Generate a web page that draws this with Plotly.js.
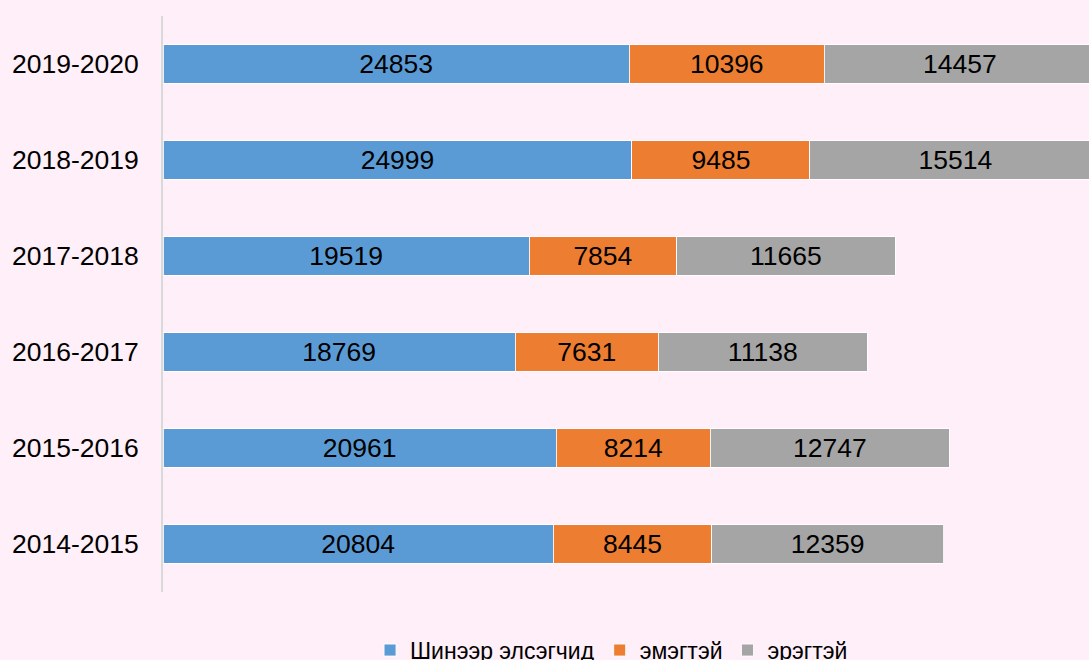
<!DOCTYPE html>
<html>
<head>
<meta charset="utf-8">
<script src="https://cdn.plot.ly/plotly-3.0.1.min.js"></script>
<style>html,body{margin:0;padding:0;background:#FEEFF8;}#chart{width:1089px;height:660px;}</style>
</head>
<body>
<div id="chart"></div>
<script>
const years = ["2014-2015","2015-2016","2016-2017","2017-2018","2018-2019","2019-2020"];
const newEntrants = [20804, 20961, 18769, 19519, 24999, 24853];
const female = [8445, 8214, 7631, 7854, 9485, 10396];
const male = [12359, 12747, 11138, 11665, 15514, 14457];
const seriesNames = ["Шинээр элсэгчид", "эмэгтэй", "эрэгтэй"];
const colors = ["#5B9BD5", "#ED7D31", "#A5A5A5"];

const font = "Liberation Sans, Arial, sans-serif";
function mk(vals, i) {
  return {
    type: "bar", orientation: "h", y: years, x: vals, name: seriesNames[i],
    marker: {color: colors[i], line: {color: "rgba(255,255,255,0.85)", width: 1}},
    text: vals.map(String), textposition: "inside", insidetextanchor: "middle",
    textangle: 0, constraintext: "none",
    textfont: {family: font, size: 26.5, color: "#000"},
    hoverinfo: "skip"
  };
}
const data = [mk(newEntrants, 0), mk(female, 1), mk(male, 2)];
const layout = {
  width: 1089, height: 660,
  paper_bgcolor: "#FEEFF8", plot_bgcolor: "#FEEFF8",
  barmode: "stack", bargap: 0.6,
  margin: {l: 163, r: 0, t: 16, b: 68, pad: 0},
  font: {family: font, size: 26.5, color: "#000"},
  xaxis: {range: [0, 49360], showgrid: false, zeroline: false, showticklabels: false, showline: false, fixedrange: true},
  yaxis: {type: "category", showgrid: false, zeroline: false, showline: true, linecolor: "#D9D9D9", linewidth: 2,
          ticks: "outside", ticklen: 17, tickcolor: "rgba(0,0,0,0)", tickfont: {family: font, size: 26.5, color: "#000"}},
  showlegend: true,
  legend: {orientation: "h", xref: "container", yref: "container", x: 0.3398, xanchor: "left", y: 0.015, yanchor: "middle",
           font: {family: font, size: 23, color: "#000"}, bgcolor: "rgba(0,0,0,0)", traceorder: "normal"},
  hovermode: false
};
Plotly.newPlot("chart", data, layout, {staticPlot: true});
</script>
</body>
</html>
